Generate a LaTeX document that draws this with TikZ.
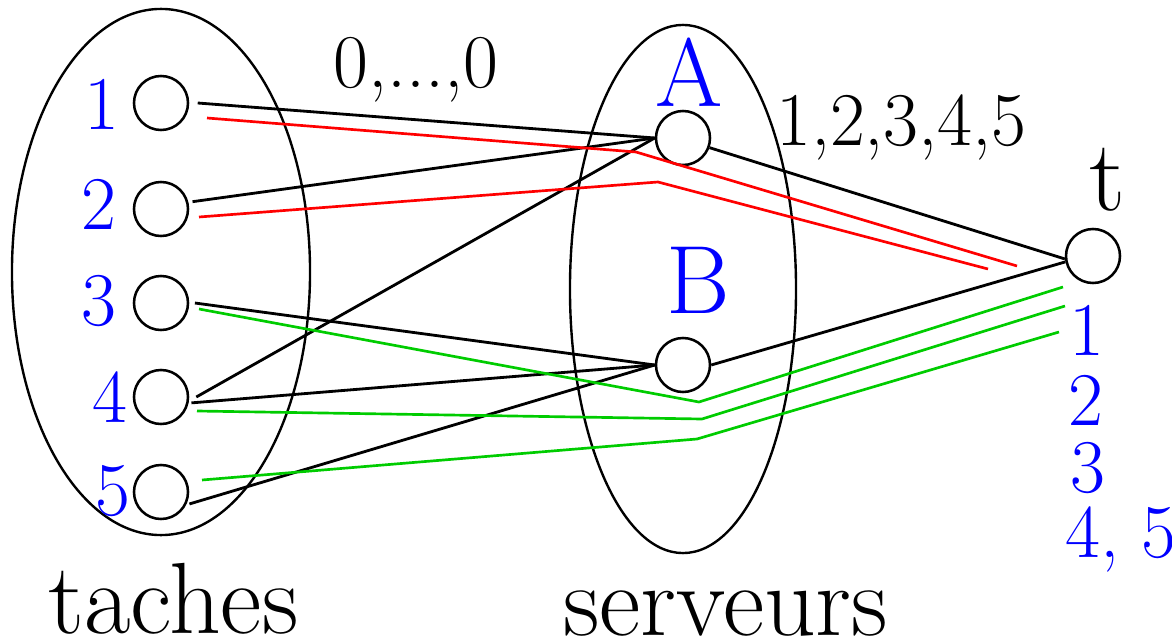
\documentclass[tikz,border=0pt]{standalone}
\usetikzlibrary{positioning,shapes.geometric}

\begin{document}
\begin{tikzpicture}[
  x=0.025cm, y=-0.025cm,
  vtx/.style={circle, draw=black, line width=1.8pt, minimum size=1.35cm, inner sep=0pt},
  groupset/.style={ellipse, draw=black, line width=1.7pt, inner sep=0pt},
  tasklbl/.style={text=blue, inner sep=0pt, font=\fontsize{54}{60}\selectfont},
  srvlbl/.style={text=blue, inner sep=0pt, font=\fontsize{69}{76}\selectfont},
  weightlbl/.style={inner sep=0pt, font=\fontsize{54}{60}\selectfont},
  setlbl/.style={inner sep=0pt, font=\fontsize{72}{80}\selectfont},
  arcline/.style={draw=black, line width=2pt},
  redflow/.style={draw=red, line width=1.9pt},
  greenflow/.style={draw=green!80!black, line width=1.9pt}
]
  \useasboundingbox (0,0) rectangle (1172,644);

  % the two sets
  \node[groupset, minimum width=7.45cm, minimum height=13.15cm] (taskset) at (161,272) {};
  \node[groupset, minimum width=5.65cm, minimum height=13.2cm] (srvset) at (683,289) {};

  % tasks
  \node[vtx] (t1) at (161,103) {};
  \node[vtx] (t2) at (161,209) {};
  \node[vtx] (t3) at (161,303) {};
  \node[vtx] (t4) at (161,397) {};
  \node[vtx] (t5) at (161,492) {};
  \node[tasklbl, anchor=base east] (l1) at (120,130) {1};
  \node[tasklbl, anchor=base east] (l2) at (117,229) {2};
  \node[tasklbl, anchor=base east] (l3) at (117,325) {3};
  \node[tasklbl, anchor=base east] (l4) at (128,422) {4};
  \node[tasklbl, anchor=base east] (l5) at (131,515) {5};

  % servers and sink
  \node[vtx] (sA) at (683,138) {};
  \node[vtx] (sB) at (683,365) {};
  \node[vtx] (snk) at (1093,256) {};
  \node[srvlbl, anchor=base] (lA) at (689,107) {A};
  \node[srvlbl, anchor=base] (lB) at (698,313) {B};
  \node[setlbl, anchor=base] (lt) at (1107,210) {t};

  % weights
  \node[weightlbl, anchor=base west] (wts) at (333,88) {0,...,0};
  \node[weightlbl, anchor=base west] (wsnk) at (776,146) {1,2,3,4,5};
  \node[tasklbl, anchor=base] (o1) at (1087,355) {1};
  \node[tasklbl, anchor=base] (o2) at (1086,425) {2};
  \node[tasklbl, anchor=base] (o3) at (1088,492) {3};
  \node[tasklbl, anchor=base west] (o45) at (1065,557) {4, 5};

  \node[setlbl, anchor=base west] (ltaches) at (48,633) {taches};
  \node[setlbl, anchor=base west] (lserv) at (563,635) {serveurs};

  % arcs
  \draw[arcline] ([xshift=6pt]t1.east) -- (sA.west);
  \draw[arcline] ([xshift=3pt]t2.15) -- (sA.west);
  \draw[arcline] ([xshift=5pt]t4.east) -- (sA.west);
  \draw[arcline] ([xshift=4pt]t3.east) -- (sB.west);
  \draw[arcline] ([xshift=2pt]t4.-12) -- (sB.west);
  \draw[arcline] ([xshift=2pt]t5.-25) -- (sB.west);
  \draw[arcline] (sA.-20) -- (snk.186);
  \draw[arcline] (sB.east) -- (snk.192);

  % flow paths
  \coordinate (r1s) at (207,118); \coordinate (r1m) at (636,152); \coordinate (r1e) at (1017,266);
  \coordinate (r2s) at (199,217); \coordinate (r2m) at (658,182); \coordinate (r2e) at (988,269);
  \draw[redflow] (r1s) -- (r1m) -- (r1e);
  \draw[redflow] (r2s) -- (r2m) -- (r2e);

  \coordinate (g3s) at (199,309); \coordinate (g3m) at (699,402); \coordinate (g3e) at (1063,287);
  \coordinate (g4s) at (197,411); \coordinate (g4m) at (702,419); \coordinate (g4e) at (1065,306);
  \coordinate (g5s) at (202,480); \coordinate (g5m) at (697,439); \coordinate (g5e) at (1059,332);
  \draw[greenflow] (g3s) -- (g3m) -- (g3e);
  \draw[greenflow] (g4s) -- (g4m) -- (g4e);
  \draw[greenflow] (g5s) -- (g5m) -- (g5e);
\end{tikzpicture}
\end{document}
